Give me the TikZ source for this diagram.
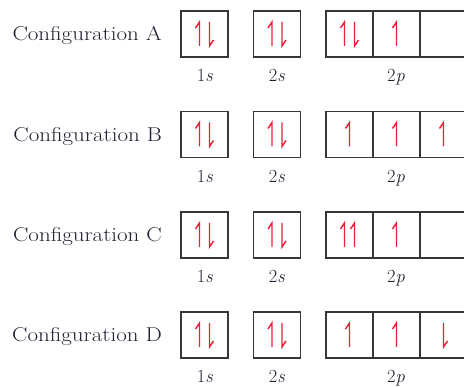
\documentclass[tikz,border=0pt]{standalone}
\usetikzlibrary{calc}
\definecolor{spinred}{RGB}{232,32,58}
\definecolor{boxgray}{RGB}{55,55,55}
\definecolor{txt}{RGB}{35,30,50}
\begin{document}
\begin{tikzpicture}[x=1pt,y=-1pt,
 cell/.style={draw=boxgray,line width=1.3pt,minimum width=47pt,minimum height=46pt,inner sep=0pt,outer sep=0pt,anchor=north west},
 spin/.style={draw=spinred,line width=1.4pt,line join=miter},
 conf/.style={anchor=base east,font=\fontsize{20}{22}\selectfont,text=txt,inner sep=0pt},
 orb/.style={anchor=base,font=\fontsize{18.5}{20}\selectfont,text=txt,inner sep=0pt},
 pics/spinup/.style={code={\draw[spin] (0,12)--(0,-12)--(-4,-6);}},
 pics/spindown/.style={code={\draw[spin] (0,-12)--(0,12)--(4,6);}}]
\useasboundingbox (0,0) rectangle (464,387);
\clip (0,0) rectangle (464,387);
\foreach \L/\T in {A/11,B/111.5,C/212,D/312}{
  \node[conf] (lab\L) at (162,\T+30) {\scalebox{1.15}[1]{Configuration \L}};
  \node[cell] (s1\L) at (181,\T) {};
  \node[cell] (s2\L) at (253.5,\T) {};
  \node[cell] (pa\L) at (326,\T) {};
  \node[cell] (pb\L) at (373,\T) {};
  \node[cell] (pc\L) at (420,\T) {};
  \node[orb] (o1\L) at (205,\T+71) {1\textit{s}};
  \node[orb] (o2\L) at (277,\T+71) {2\textit{s}};
  \node[orb] (o3\L) at (396,\T+71) {2\textit{p}};
  \pic at ([xshift=-5pt]s1\L.center) {spinup};
  \pic at ([xshift=5pt]s1\L.center) {spindown};
  \pic at ([xshift=-5pt]s2\L.center) {spinup};
  \pic at ([xshift=5pt]s2\L.center) {spindown};
}
% A
\pic at ([xshift=-5pt]paA.center) {spinup};
\pic at ([xshift=5pt]paA.center) {spindown};
\pic at (pbA.center) {spinup};
% B
\pic at (paB.center) {spinup};
\pic at (pbB.center) {spinup};
\pic at (pcB.center) {spinup};
% C
\pic at ([xshift=-5pt]paC.center) {spinup};
\pic at ([xshift=5pt]paC.center) {spinup};
\pic at (pbC.center) {spinup};
% D
\pic at (paD.center) {spinup};
\pic at (pbD.center) {spinup};
\pic at (pcD.center) {spindown};
\end{tikzpicture}
\end{document}
